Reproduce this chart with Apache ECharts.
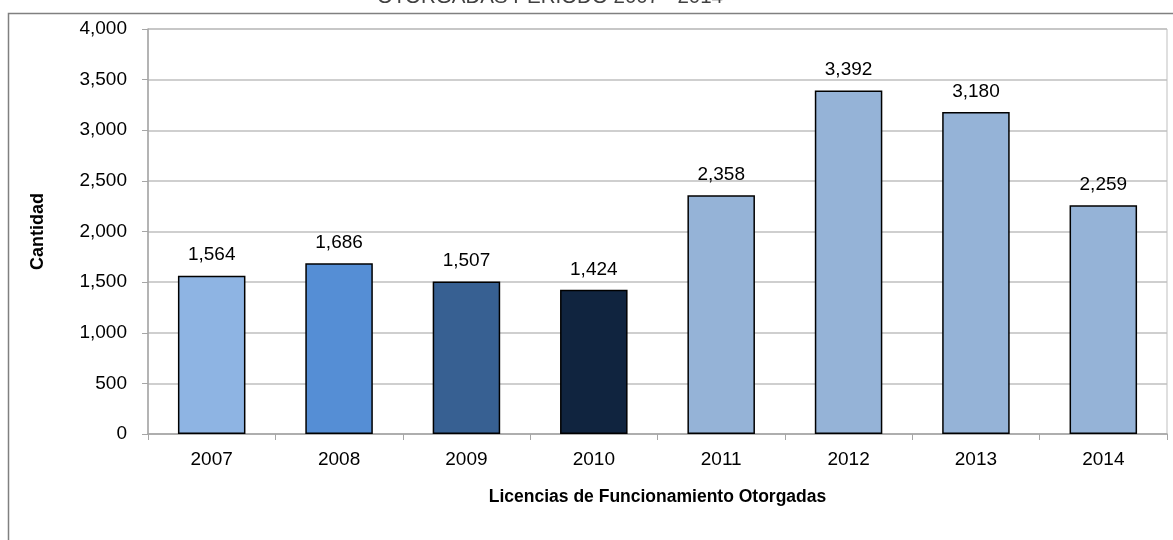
<!DOCTYPE html>
<html><head><meta charset="utf-8">
<script src="https://cdn.jsdelivr.net/npm/echarts@6/dist/echarts.min.js"></script>
<style>html,body{margin:0;padding:0;background:#fff}#c{width:1173px;height:540px}</style>
</head><body><div id="c"></div>
<script>
const categories = ['2007','2008','2009','2010','2011','2012','2013','2014'];
const values = [1564, 1686, 1507, 1424, 2358, 3392, 3180, 2259];
const barColors = ['#8EB4E3','#558ED5','#376092','#10243F','#95B3D7','#95B3D7','#95B3D7','#95B3D7'];
const yTicks = [0, 500, 1000, 1500, 2000, 2500, 3000, 3500, 4000];

const chart = echarts.init(document.getElementById('c'));
const font = '"Liberation Sans", Arial, sans-serif';
chart.setOption({
  animation: false,
  textStyle: {fontFamily: font},
  graphic: [
    {type:'rect', shape:{x:8.5, y:13.5, width:1300, height:700}, style:{fill:'none', stroke:'#808080', lineWidth:1.5}, z:-1},
    {type:'text', x:550, y:8, style:{text:'OTORGADAS PERIODO 2007 - 2014', font:'20.5px ' + font, fill:'#404040', textAlign:'center', textVerticalAlign:'bottom'}}
  ],
  grid: {left:148, right:6, top:29, bottom:106, containLabel:false, show:true, borderColor:'#BFBFBF', borderWidth:1},
  xAxis: {
    type:'category', data:categories,
    name:'Licencias de Funcionamiento Otorgadas', nameLocation:'middle', nameGap:54,
    nameTextStyle:{fontSize:17.5, fontWeight:'bold', color:'#000', fontFamily:font},
    axisLine:{lineStyle:{color:'#A6A6A6', width:1.5}},
    axisTick:{show:true, alignWithLabel:false, length:6, lineStyle:{color:'#A6A6A6'}},
    axisLabel:{fontSize:19, color:'#000', margin:16, fontFamily:font}
  },
  yAxis: {
    type:'value', min:0, max:4000, interval:500,
    name:'Cantidad', nameLocation:'middle', nameGap:101, nameRotate:90,
    nameTextStyle:{fontSize:18, fontWeight:'bold', color:'#000', fontFamily:font},
    axisLine:{show:true, lineStyle:{color:'#A6A6A6', width:1.5}},
    axisTick:{show:true, length:6, lineStyle:{color:'#A6A6A6'}},
    splitLine:{lineStyle:{color:'#BFBFBF', width:1.5}},
    axisLabel:{fontSize:19, color:'#000', margin:21, fontFamily:font,
      formatter: v => yTicks.includes(v) ? v.toLocaleString('en-US') : ''}
  },
  series: [{
    type:'bar', barWidth:'53%',
    data: values.map((v,i)=>({value:v, itemStyle:{color:barColors[i]}})),
    itemStyle:{borderColor:'#000', borderWidth:1.5},
    label:{show:true, position:'top', distance:11, fontSize:19, color:'#000', fontFamily:font,
      formatter: p => p.value.toLocaleString('en-US')}
  }]
});
</script></body></html>
